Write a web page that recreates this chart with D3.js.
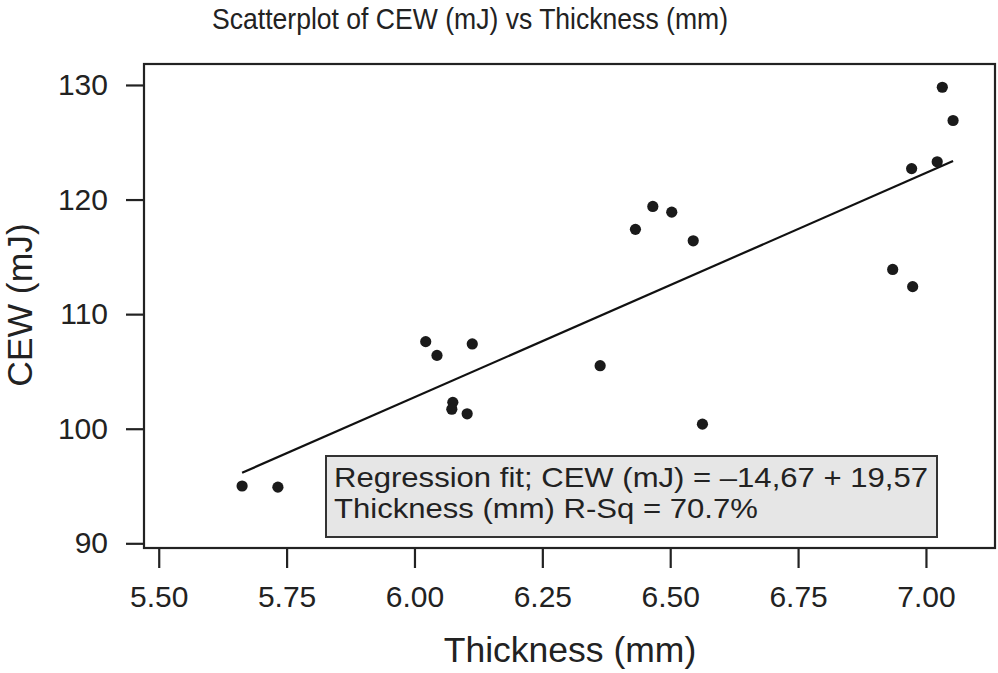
<!DOCTYPE html>
<html>
<head>
<meta charset="utf-8">
<script src="https://cdn.jsdelivr.net/npm/d3@7"></script>
<style>
  html, body { margin: 0; padding: 0; background: #fff; }
  svg { display: block; }
  text { font-family: "Liberation Sans", Arial, Helvetica, sans-serif; fill: #222; }
</style>
</head>
<body>
<svg id="chart" width="998" height="673"></svg>
<script>
// ---- data ----
const thickness = [5.663, 5.733, 6.022, 6.044, 6.113, 6.075, 6.073, 6.103, 6.363, 6.432,
                   6.466, 6.503, 6.545, 6.563, 6.935, 6.974, 6.972, 7.022, 7.032, 7.053];
const cew = [95.0, 94.9, 107.6, 106.4, 107.4, 102.3, 101.7, 101.3, 105.5, 117.4,
             119.4, 118.9, 116.4, 100.4, 113.9, 112.4, 122.7, 123.3, 129.8, 126.9];
const xTicks = [5.50, 5.75, 6.00, 6.25, 6.50, 6.75, 7.00];
const yTicks = [90, 100, 110, 120, 130];
const fitIntercept = -14.67;
const fitSlope = 19.57;
const titleText = "Scatterplot of CEW (mJ) vs Thickness (mm)";
const xLabel = "Thickness (mm)";
const yLabel = "CEW (mJ)";
const noteLines = ["Regression fit; CEW (mJ) = \u201314,67 + 19,57", "Thickness (mm) R-Sq = 70.7%"];

// ---- layout ----
const svg = d3.select("#chart");
const L = 144, R = 995, T = 64, B = 548;
const ink = "#222";

const x = d3.scaleLinear().domain([5.4712, 7.135]).range([L, R]);
const y = d3.scaleLinear().domain([89.59, 131.83]).range([B, T]);

// axes
const xAxis = d3.axisBottom(x).tickValues(xTicks).tickFormat(d3.format(".2f"))
  .tickSize(20).tickSizeOuter(0).tickPadding(18);
const gx = svg.append("g").attr("transform", `translate(0,${B})`).call(xAxis);
gx.select(".domain").remove();
gx.selectAll("line").attr("stroke", ink).attr("stroke-width", 2.2);
gx.selectAll("text").attr("font-size", 30).attr("fill", ink);

const yAxis = d3.axisLeft(y).tickValues(yTicks).tickFormat(d3.format("d"))
  .tickSize(18).tickSizeOuter(0).tickPadding(18);
const gy = svg.append("g").attr("transform", `translate(${L},0)`).call(yAxis);
gy.select(".domain").remove();
gy.selectAll("line").attr("stroke", ink).attr("stroke-width", 2.2);
gy.selectAll("text").attr("font-size", 30).attr("fill", ink);

// frame
svg.append("rect")
  .attr("x", L).attr("y", T).attr("width", R - L).attr("height", B - T)
  .attr("fill", "none").attr("stroke", ink).attr("stroke-width", 2.2);

// regression line
const xMin = d3.min(thickness), xMax = d3.max(thickness);
svg.append("line")
  .attr("x1", x(xMin)).attr("y1", y(fitIntercept + fitSlope * xMin))
  .attr("x2", x(xMax)).attr("y2", y(fitIntercept + fitSlope * xMax))
  .attr("stroke", "#111").attr("stroke-width", 2.2);

// points
svg.append("g").selectAll("circle")
  .data(thickness.map((t, i) => [t, cew[i]]))
  .join("circle")
  .attr("cx", d => x(d[0])).attr("cy", d => y(d[1]))
  .attr("r", 5.6).attr("fill", "#1a1a1a");

// annotation box
const boxX = 326, boxY = 456;
svg.append("rect")
  .attr("x", boxX).attr("y", boxY).attr("width", 611).attr("height", 81)
  .attr("fill", "#e6e6e6").attr("stroke", "#333").attr("stroke-width", 2);
const notes = svg.append("g").selectAll("text").data(noteLines).join("text")
  .attr("x", boxX + 8).attr("y", (d, i) => boxY + 30.5 + i * 31.5)
  .attr("font-size", 28.5).attr("fill", ink)
  .text(d => d);
// stretch lines horizontally (condensed-height font) so line 1 fills the box like the original
const w0 = notes.nodes()[0].getComputedTextLength();
const k = 594 / w0;
notes.each(function () {
  const w = this.getComputedTextLength();
  d3.select(this).attr("textLength", w * k).attr("lengthAdjust", "spacingAndGlyphs");
});

// title & labels
svg.append("text").attr("x", 470).attr("y", 29).attr("text-anchor", "middle")
  .attr("font-size", 30).attr("textLength", 516).attr("lengthAdjust", "spacingAndGlyphs")
  .text(titleText);
svg.append("text").attr("x", 570).attr("y", 662).attr("text-anchor", "middle")
  .attr("font-size", 35.5).text(xLabel);
svg.append("text").attr("transform", "translate(32,305) rotate(-90)")
  .attr("text-anchor", "middle").attr("font-size", 35.5).text(yLabel);
</script>
</body>
</html>
